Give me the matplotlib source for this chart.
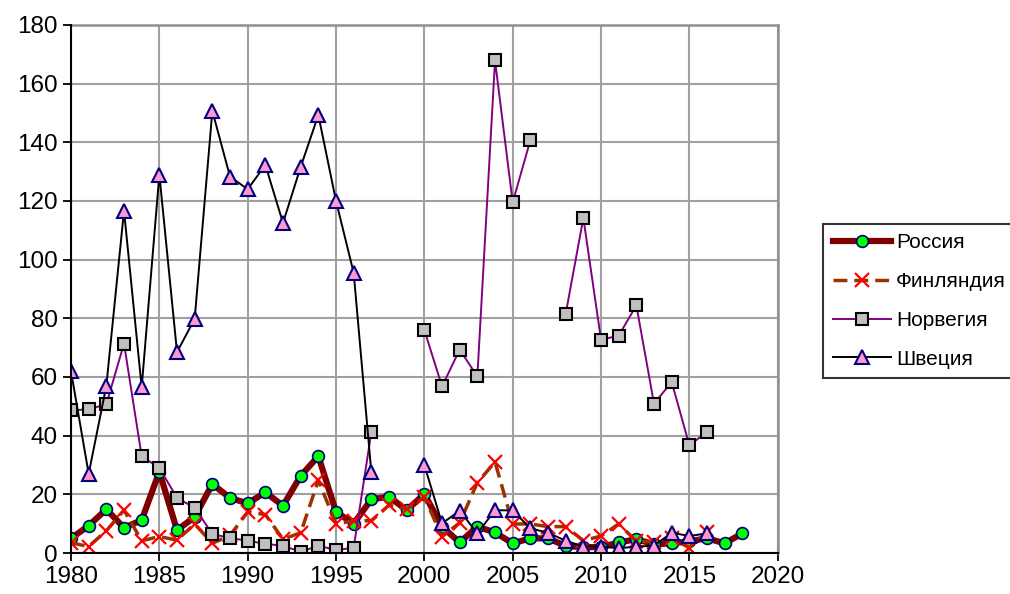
import numpy as np
import matplotlib
matplotlib.use('Agg')
import matplotlib.pyplot as plt

plt.rcParams['font.family'] = ['Liberation Sans', 'DejaVu Sans']

# годы 1980-2018
years = list(range(1980, 2019))
nan = np.nan

russia = [5, 9.3, 14.9, 8.6, 11.2, 27.7, 7.8, 12.3, 23.5, 18.8,
          16.9, 20.7, 16.1, 26.3, 33, 14, 10, 18.3, 19.2, 14.6,
          20.1, 9, 3.6, 9, 7, 3.3, 5, 5, 2.4, 2,
          2, 3.6, 4.7, 3, 3.3, 4, 5, 3.3, 6.7]

finland = [3.5, 2.2, 7.6, 14.6, 4.2, 5.6, 4.4, 9.9, 3.3, 6,
           14, 13.1, 4.7, 6.9, 24.8, 9.9, 11, 11, 16.3, 15,
           19, 5.6, 10.3, 24, 31, 9.9, 9.9, 9, 9, 4.2,
           5.8, 9.9, 4, 3.8, 5, 1.8, 7.2, nan, nan]

norway = [48.6, 49, 50.7, 71.4, 33, 29, 18.8, 15.4, 6.5, 5.1,
          4.2, 3.1, 2.5, 0.4, 2.5, 1, 1.8, 41.3, nan, nan,
          76, 56.8, 69.3, 60.2, 167.9, 119.5, 140.7, nan, 81.5, 114.2,
          72.7, 74.1, 84.4, 50.9, 58.3, 36.7, 41.3, nan, nan]

sweden = [62, 27, 57, 116.7, 56.5, 129, 68.5, 79.8, 150.7, 128.3,
          124, 132.3, 112.5, 131.6, 149.3, 120, 95.5, 27.5, nan, nan,
          30, 10.1, 14.4, 6.7, 14.6, 14.5, 8.4, 6.9, 4.2, 2.2,
          2.2, 1.6, 2.2, 2.5, 6.9, 5.8, 6.7, nan, nan]

fig = plt.figure(figsize=(10.1, 5.94), dpi=100)
ax = fig.add_axes([0.0703, 0.069, 0.6997, 0.889])

ax.plot(years, russia, color='#800000', linewidth=4.5, marker='o',
        markersize=8.5, markerfacecolor='#00ff00', markeredgecolor='#000080',
        markeredgewidth=1.2, label='Россия', zorder=3)
ax.plot(years, finland, color='#993300', linewidth=2.5, linestyle=(0, (4, 2)),
        marker='x', markersize=10, markeredgecolor='#ff0000',
        markeredgewidth=1.6, label='Финляндия', zorder=4)
ax.plot(years, norway, color='#800080', linewidth=1.4, marker='s',
        markersize=8, markerfacecolor='#c0c0c0', markeredgecolor='#000000',
        markeredgewidth=1.5, label='Норвегия', zorder=5)
ax.plot(years, sweden, color='#000000', linewidth=1.4, marker='^',
        markersize=9.5, markerfacecolor='#ff99cc', markeredgecolor='#000080',
        markeredgewidth=1.5, label='Швеция', zorder=6)

ax.set_xlim(1980, 2020)
ax.set_ylim(0, 180)
ax.set_xticks(range(1980, 2021, 5))
ax.set_yticks(range(0, 181, 20))
ax.grid(True, color='#a0a0a0', linewidth=1.5)
ax.set_axisbelow(True)
ax.tick_params(labelsize=17.5, length=6, width=1.3, direction='out', color='black')

for s in ['top', 'right']:
    ax.spines[s].set_color('#909090')
    ax.spines[s].set_linewidth(1.8)
for s in ['left', 'bottom']:
    ax.spines[s].set_color('black')
    ax.spines[s].set_linewidth(1.5)
    ax.spines[s].set_zorder(7)

leg = fig.legend(loc='upper left', bbox_to_anchor=(0.815, 0.623), fontsize=15,
                 frameon=True, fancybox=False, edgecolor='black', handlelength=2.8,
                 labelspacing=0.95, borderpad=0.45, handletextpad=0.25,
                 borderaxespad=0)
leg.get_frame().set_linewidth(1.5)

fig.savefig('out.png', dpi=100)
